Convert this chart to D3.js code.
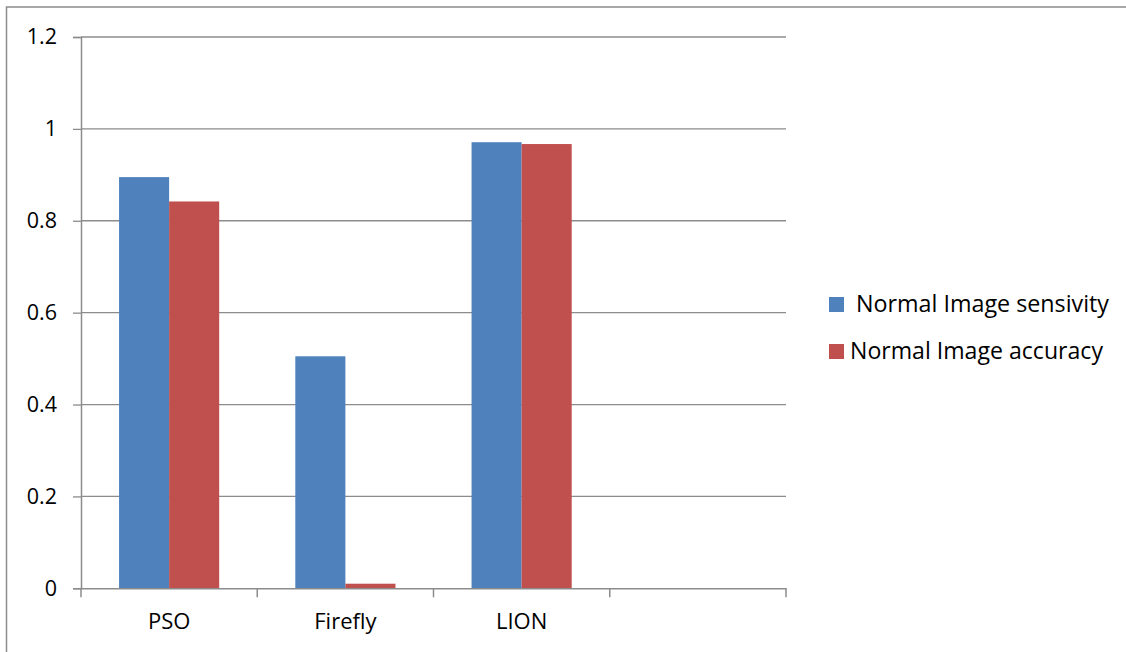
<!DOCTYPE html>
<html>
<head>
<meta charset="utf-8">
<script src="https://cdn.jsdelivr.net/npm/d3@7/dist/d3.min.js"></script>
<style>
  html, body { margin: 0; padding: 0; background: #fff; }
  svg { display: block; }
  text { font-family: "Open Sans", "Liberation Sans", sans-serif; fill: #000; white-space: pre; }
</style>
</head>
<body>
<svg id="chart" width="1126" height="652"></svg>
<script>
const categories = ["PSO", "Firefly", "LION", ""];
const seriesNames = [" Normal Image sensivity", "Normal Image accuracy"];
const sensitivity = [0.895, 0.505, 0.971, null];
const accuracy = [0.842, 0.01, 0.967, null];
const yTicks = [0, 0.2, 0.4, 0.6, 0.8, 1, 1.2];
const colors = ["#4f81bd", "#c0504d"];

const svg = d3.select("#chart");
const W = 1126, H = 652;
const margin = { left: 81, right: W - 786, top: 37, bottom: H - 588.3 };

// outer border
svg.append("rect")
  .attr("x", 6.5).attr("y", 7)
  .attr("width", W + 10).attr("height", H + 10)
  .attr("fill", "none").attr("stroke", "#8c8c8c").attr("stroke-width", 1.5);

const x0 = d3.scaleBand().domain(categories.map((c, i) => i))
  .range([margin.left, W - margin.right]).paddingInner(0).paddingOuter(0);
const x1 = d3.scaleBand().domain([0, 1]).range([0, x0.bandwidth()])
  .paddingInner(0).paddingOuter(0.76);
const y = d3.scaleLinear().domain([0, 1.2]).range([H - margin.bottom, margin.top]);

// gridlines
svg.append("g").selectAll("line").data(yTicks.filter(d => d > 0)).join("line")
  .attr("x1", margin.left).attr("x2", W - margin.right)
  .attr("y1", d => y(d)).attr("y2", d => y(d))
  .attr("stroke", "#8c8c8c").attr("stroke-width", 1.3);

// bars
const series = [sensitivity, accuracy];
series.forEach((vals, s) => {
  svg.append("g").selectAll("rect")
    .data(vals.map((v, i) => ({ v, i })).filter(d => d.v != null))
    .join("rect")
    .attr("x", d => x0(d.i) + x1(s))
    .attr("width", x1.bandwidth())
    .attr("y", d => y(d.v))
    .attr("height", d => y(0) - y(d.v))
    .attr("fill", colors[s]);
});

// y axis
const yAxis = d3.axisLeft(y).tickValues(yTicks).tickSize(8).tickPadding(16)
  .tickFormat(d => d3.format("~g")(d));
const gy = svg.append("g").attr("transform", `translate(${margin.left},0)`).call(yAxis);
gy.select(".domain").attr("stroke", "#8c8c8c").attr("stroke-width", 1.5);
gy.selectAll(".tick line").attr("stroke", "#8c8c8c").attr("stroke-width", 1.3);
gy.selectAll(".tick text").attr("font-size", 21.5).attr("font-family", "Open Sans").attr("fill", "#000");

// x axis
const xAxis = d3.axisBottom(x0).tickSize(0).tickFormat(i => categories[i]).tickPadding(25);
const gx = svg.append("g").attr("transform", `translate(0,${y(0)})`).call(xAxis);
gx.select(".domain").attr("stroke", "#8c8c8c").attr("stroke-width", 1.5);
gx.selectAll(".tick text").attr("font-size", 22).attr("font-family", "Open Sans").attr("fill", "#000");
// category boundary ticks
const bounds = categories.map((c, i) => x0(i)).concat([x0(categories.length - 1) + x0.bandwidth()]);
gx.append("g").selectAll("line").data(bounds).join("line")
  .attr("x1", d => d).attr("x2", d => d).attr("y1", 0).attr("y2", 9)
  .attr("stroke", "#8c8c8c").attr("stroke-width", 1.5);

// legend
const legend = svg.append("g");
seriesNames.forEach((name, i) => {
  const ly = 297 + i * 47;
  legend.append("rect").attr("x", 829).attr("y", ly).attr("width", 15).attr("height", 15).attr("fill", colors[i]);
  legend.append("text").attr("x", 850).attr("y", ly + 15)
    .attr("font-size", 23).attr("textLength", i === 0 ? 259 : 253)
    .attr("lengthAdjust", "spacingAndGlyphs").text(name);
});
</script>
</body>
</html>
